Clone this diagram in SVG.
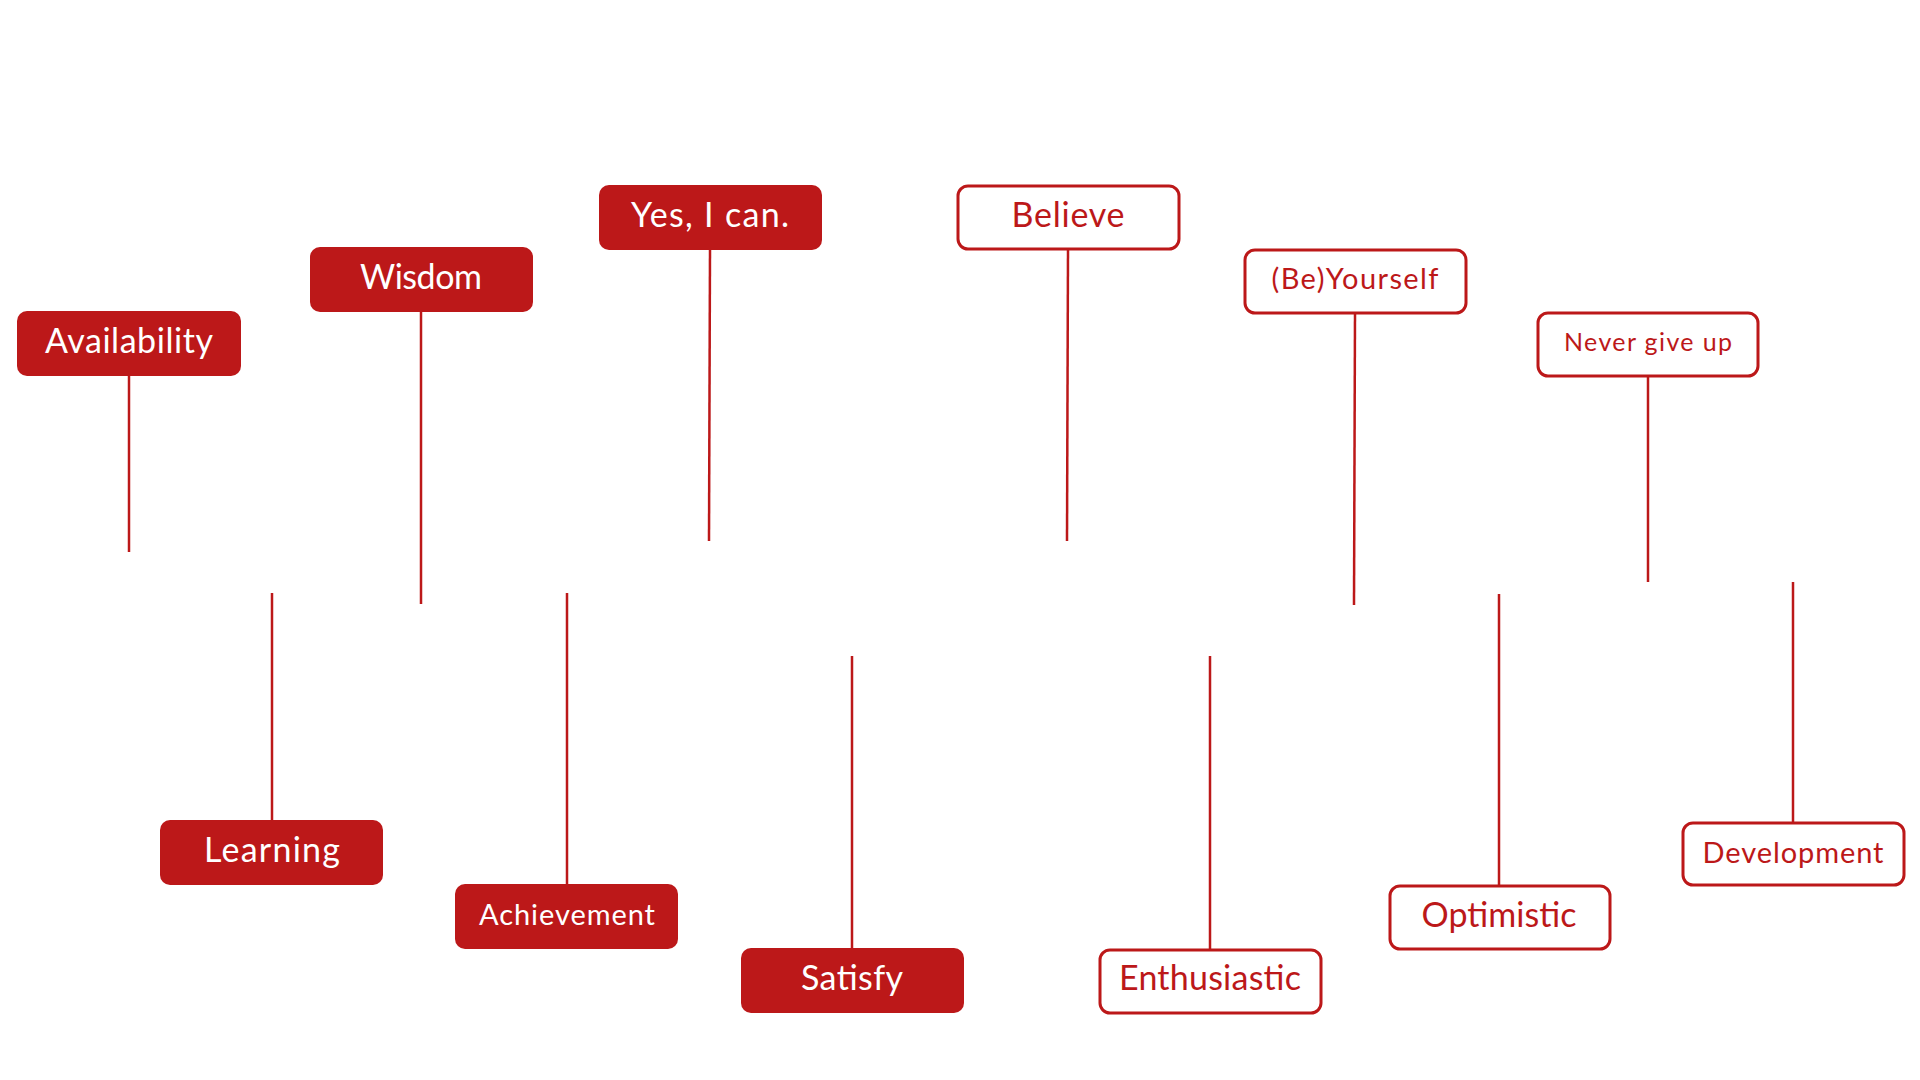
<svg xmlns="http://www.w3.org/2000/svg" width="1920" height="1080" viewBox="0 0 1920 1080">
<style>
.f rect{fill:#BC1819;}
.f text{fill:#FFFFFF;}
.o rect{fill:#FFFFFF;stroke:#BC1819;stroke-width:3;}
.o text{fill:#BC1819;}
text{font-family:Lato,"Open Sans",sans-serif;text-anchor:middle;}
#connectors line{stroke:#BC1819;stroke-width:2.5;}
</style>
<rect width="1920" height="1080" fill="#FFFFFF"/>
<g id="connectors">
<line x1="129" y1="376" x2="129" y2="552"/>
<line x1="421" y1="312" x2="421" y2="604"/>
<line x1="710" y1="250" x2="709" y2="541"/>
<line x1="1068" y1="250" x2="1067" y2="541"/>
<line x1="1355" y1="313" x2="1354" y2="605"/>
<line x1="1648" y1="376" x2="1648" y2="582"/>
<line x1="272" y1="593" x2="272" y2="820"/>
<line x1="567" y1="593" x2="567" y2="884"/>
<line x1="852" y1="656" x2="852" y2="948"/>
<line x1="1210" y1="656" x2="1210" y2="949"/>
<line x1="1499" y1="594" x2="1499" y2="885"/>
<line x1="1793" y1="582" x2="1793" y2="822"/>
</g>
<g id="availability" class="f"><rect x="17" y="311" width="224" height="65" rx="10"/><text x="129" y="353" font-size="34" textLength="168">Availability</text></g>
<g id="wisdom" class="f"><rect x="310" y="247" width="223" height="65" rx="10"/><text x="421" y="289" font-size="34" textLength="122">Wisdom</text></g>
<g id="yes" class="f"><rect x="599" y="185" width="223" height="65" rx="10"/><text x="710" y="227" font-size="34" textLength="158">Yes, I can.</text></g>
<g id="believe" class="o"><rect x="958" y="186" width="221" height="63" rx="10"/><text x="1068" y="227" font-size="34" textLength="113">Believe</text></g>
<g id="beyourself" class="o"><rect x="1245" y="250" width="221" height="63" rx="10"/><text x="1355" y="289" font-size="29" textLength="167">(Be)Yourself</text></g>
<g id="nevergiveup" class="o"><rect x="1538" y="313" width="220" height="63" rx="10"/><text x="1648" y="351" font-size="25" textLength="168">Never give up</text></g>
<g id="learning" class="f"><rect x="160" y="820" width="223" height="65" rx="10"/><text x="272" y="862" font-size="34" textLength="136">Learning</text></g>
<g id="achievement" class="f"><rect x="455" y="884" width="223" height="65" rx="10"/><text x="567" y="925" font-size="29" textLength="176">Achievement</text></g>
<g id="satisfy" class="f"><rect x="741" y="948" width="223" height="65" rx="10"/><text x="852" y="990" font-size="34" textLength="102">Satisfy</text></g>
<g id="enthusiastic" class="o"><rect x="1100" y="950" width="221" height="63" rx="10"/><text x="1210" y="990" font-size="34" textLength="182">Enthusiastic</text></g>
<g id="optimistic" class="o"><rect x="1390" y="886" width="220" height="63" rx="10"/><text x="1499" y="927" font-size="34" textLength="155">Optimistic</text></g>
<g id="development" class="o"><rect x="1683" y="823" width="221" height="62" rx="10"/><text x="1793" y="863" font-size="29" textLength="181">Development</text></g>
</svg>
